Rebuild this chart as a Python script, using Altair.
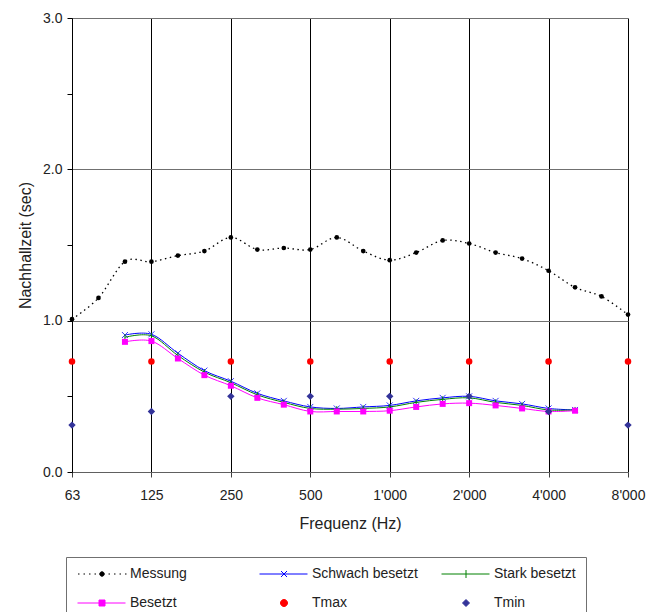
import altair as alt
import pandas as pd

# ---------------- data ----------------
freqs = ["63", "80", "100", "125", "160", "200", "250", "315", "400", "500", "630", "800",
         "1'000", "1'250", "1'600", "2'000", "2'500", "3'150", "4'000", "5'000", "6'300", "8'000"]
octaves = ["63", "125", "250", "500", "1'000", "2'000", "4'000", "8'000"]

messung = [1.01, 1.15, 1.39, 1.39, 1.43, 1.46, 1.55, 1.47, 1.48, 1.47, 1.55, 1.46,
           1.40, 1.45, 1.53, 1.51, 1.45, 1.41, 1.33, 1.22, 1.16, 1.04]

sub_freqs = ["100", "125", "160", "200", "250", "315", "400", "500", "630", "800",
             "1'000", "1'250", "1'600", "2'000", "2'500", "3'150", "4'000", "5'000"]
schwach = [0.905, 0.91, 0.785, 0.67, 0.60, 0.52, 0.47, 0.43, 0.42, 0.43,
           0.44, 0.47, 0.49, 0.50, 0.47, 0.45, 0.42, 0.41]
stark = [0.89, 0.90, 0.77, 0.66, 0.59, 0.51, 0.46, 0.42, 0.415, 0.42,
         0.43, 0.46, 0.48, 0.49, 0.46, 0.44, 0.41, 0.41]
besetzt = [0.86, 0.865, 0.75, 0.64, 0.57, 0.49, 0.445, 0.40, 0.40, 0.40,
           0.405, 0.43, 0.45, 0.455, 0.44, 0.42, 0.40, 0.405]

tmax = [0.73, 0.73, 0.73, 0.73, 0.73, 0.73, 0.73, 0.73]
tmin = [0.31, 0.40, 0.50, 0.50, 0.50, 0.50, 0.40, 0.31]

series_names = ["Messung", "Schwach besetzt", "Stark besetzt", "Besetzt", "Tmax", "Tmin"]
series_colors = ["#000000", "#0000ff", "#008000", "#ff00ff", "#ff0000", "#333399"]

# legend symbols: line segment + marker (custom SVG paths)
legend_paths = [
    "M-1.0,0L-0.7,0M0.1,0L0.4,0M1.2,0L1.5,0M2.3,0L2.6,0"
    "M4.25,0A0.45,0.45,0,1,1,3.35,0A0.45,0.45,0,1,1,4.25,0Z"
    "M5.1,0L5.4,0M6.2,0L6.5,0M7.3,0L7.6,0M8.4,0L8.7,0",
    "M-1.1,0L8.5,0M3.2,-0.6L4.4,0.6M3.2,0.6L4.4,-0.6",
    "M-1.1,0L8.5,0M3.8,-0.8L3.8,0.8",
    "M-1.1,0L8.5,0M3.2,-0.6L4.4,-0.6L4.4,0.6L3.2,0.6Z",
    "M4.5,0A0.7,0.7,0,1,1,3.1,0A0.7,0.7,0,1,1,4.5,0Z",
    "M3.8,-0.7L4.5,0L3.8,0.7L3.1,0Z",
]

FONT = "Liberation Sans"

df_mess = pd.DataFrame({"f": freqs, "v": messung})
df_sch = pd.DataFrame({"f": sub_freqs, "v": schwach})
df_sta = pd.DataFrame({"f": sub_freqs, "v": stark})
df_bes = pd.DataFrame({"f": sub_freqs, "v": besetzt})
df_tmax = pd.DataFrame({"f": octaves, "v": tmax})
df_tmin = pd.DataFrame({"f": octaves, "v": tmin})
df_leg = pd.DataFrame({"series": series_names})

x_enc = alt.X(
    "f:O",
    sort=freqs,
    scale=alt.Scale(type="point", domain=freqs, padding=0),
    axis=alt.Axis(
        values=octaves, labelAngle=0, grid=True, gridColor="#000000", gridWidth=1,
        tickSize=5, tickColor="#404040", domainColor="#606060", labelPadding=11,
        labelFontSize=14, titleFontSize=16, titlePadding=13, labelColor="#222222",
        titleColor="#222222", titleFontWeight="normal",
    ),
    title="Frequenz (Hz)",
)
y_enc = alt.Y(
    "v:Q",
    scale=alt.Scale(domain=[0, 3], nice=False, zero=True),
    axis=alt.Axis(
        values=[0, 0.5, 1, 1.5, 2, 2.5, 3],
        labelExpr="datum.value % 1 === 0 ? format(datum.value, '.1f') : ''",
        grid=True, gridColor="#707070",
        gridOpacity={"condition": {"test": "datum.value % 1 === 0 && datum.value > 0", "value": 1}, "value": 0},
        tickSize=5, tickColor="#000000", domainColor="#000000", labelPadding=5,
        labelFontSize=14, titleFontSize=16, titlePadding=9, labelColor="#222222",
        titleColor="#222222", titleFontWeight="normal",
    ),
    title="Nachhallzeit (sec)",
)

mess_line = alt.Chart(df_mess).mark_line(
    color="#000000", strokeDash=[1.5, 3.5], strokeWidth=1.3, interpolate="cardinal"
).encode(x=x_enc, y=y_enc)
mess_pts = alt.Chart(df_mess).mark_point(
    filled=True, color="#000000", size=22, opacity=1, shape="circle"
).encode(x=x_enc, y=y_enc)

sch_line = alt.Chart(df_sch).mark_line(color="#0000ff", strokeWidth=1, interpolate="cardinal").encode(x=x_enc, y=y_enc)
sch_pts = alt.Chart(df_sch).mark_point(
    shape="M-1,-1L1,1M-1,1L1,-1", size=36, color="#3333ff", filled=False, strokeWidth=1, opacity=1
).encode(x=x_enc, y=y_enc)

sta_line = alt.Chart(df_sta).mark_line(color="#008000", strokeWidth=1, interpolate="cardinal").encode(x=x_enc, y=y_enc)
sta_pts = alt.Chart(df_sta).mark_point(
    shape="M0,-1L0,1", size=36, color="#008000", filled=False, strokeWidth=1, opacity=1
).encode(x=x_enc, y=y_enc)

bes_line = alt.Chart(df_bes).mark_line(color="#ff00ff", strokeWidth=1, interpolate="cardinal").encode(x=x_enc, y=y_enc)
bes_pts = alt.Chart(df_bes).mark_point(
    shape="square", size=36, color="#ff00ff", filled=True, opacity=1
).encode(x=x_enc, y=y_enc)

tmax_pts = alt.Chart(df_tmax).mark_point(
    shape="circle", size=42, color="#ff0000", filled=True, opacity=1
).encode(x=x_enc, y=y_enc)
tmin_pts = alt.Chart(df_tmin).mark_point(
    shape="diamond", size=55, color="#333399", filled=True, opacity=1
).encode(x=x_enc, y=y_enc)

leg = alt.Legend(
    title=None, orient="none", legendX=-6, legendY=539, columns=3, direction="horizontal",
    gridAlign="all", columnPadding=21, rowPadding=15, symbolSize=100, symbolStrokeWidth=1,
    labelOffset=40, labelFont=FONT, labelFontSize=14, labelColor="#222222", padding=10,
    strokeColor="#707070", fillColor="#ffffff", symbolOpacity=1, labelLimit=250,
)
legend_layer = alt.Chart(df_leg).mark_point(filled=True, strokeWidth=1).encode(
    fill=alt.Fill("series:N", scale=alt.Scale(domain=series_names, range=series_colors), legend=leg),
    stroke=alt.Stroke("series:N", scale=alt.Scale(domain=series_names, range=series_colors), legend=leg),
    shape=alt.Shape("series:N", scale=alt.Scale(domain=series_names, range=legend_paths), legend=leg),
).transform_filter("false")

chart = alt.layer(
    mess_line, mess_pts, sch_line, sch_pts, sta_line, sta_pts, bes_line, bes_pts,
    tmax_pts, tmin_pts, legend_layer,
).properties(
    width=556, height=454,
    autosize=alt.AutoSizeParams(type="none"),
    padding={"left": 64, "top": 10, "right": 20, "bottom": 150},
    background="#ffffff",
).configure_view(
    stroke=None
).configure_axis(
    labelFont=FONT, titleFont=FONT
).configure_legend(
    labelFont=FONT
)

chart.save("out.html", embed_options={"renderer": "svg", "actions": False})
